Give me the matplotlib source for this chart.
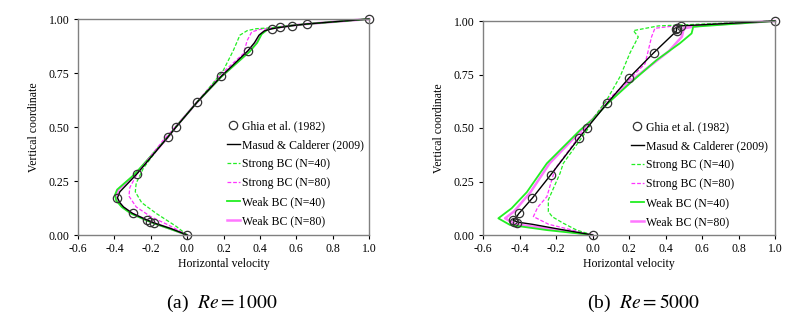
import matplotlib
matplotlib.use('Agg')
import matplotlib.pyplot as plt

plt.rcParams['font.family'] = ['Liberation Serif', 'DejaVu Serif']
plt.rcParams['mathtext.fontset'] = 'stix'

# Ghia et al. (1982) reference data
ghia_y = [1.0, 0.9766, 0.9688, 0.9609, 0.9531, 0.8516, 0.7344, 0.6172, 0.5,
          0.4531, 0.2813, 0.1719, 0.1016, 0.0703, 0.0625, 0.0547, 0.0]
ghia_u_1000 = [1.0, 0.65928, 0.57492, 0.51117, 0.46604, 0.33304, 0.18719, 0.05702, -0.0608,
               -0.10648, -0.27805, -0.38289, -0.2973, -0.2222, -0.20196, -0.18109, 0.0]
ghia_u_5000 = [1.0, 0.48223, 0.4612, 0.45992, 0.46036, 0.33556, 0.20087, 0.08183, -0.03039,
               -0.07404, -0.22855, -0.3305, -0.40435, -0.43643, -0.42901, -0.41165, 0.0]

# Re = 1000 curves
masud_1000_y = [0, 0.03, 0.055, 0.07, 0.10, 0.13, 0.15, 0.172, 0.20, 0.281, 0.453, 0.50, 0.617,
                0.734, 0.852, 0.89, 0.925, 0.945, 0.955, 0.961, 0.969, 0.977, 1.0]
masud_1000_u = [0, -0.09, -0.18, -0.222, -0.30, -0.35, -0.37, -0.383, -0.37, -0.278, -0.106, -0.061,
                0.057, 0.187, 0.333, 0.37, 0.395, 0.425, 0.466, 0.511, 0.575, 0.659, 1.0]
s40_1000_y = [0, 0.04, 0.10, 0.15, 0.20, 0.24, 0.31, 0.40, 0.51, 0.62, 0.70, 0.764, 0.856, 0.925,
              0.946, 0.955, 0.96, 0.97, 0.977, 1.0]
s40_1000_u = [0, -0.06, -0.17, -0.25, -0.285, -0.28, -0.24, -0.16, -0.05, 0.06, 0.14, 0.2, 0.255,
              0.29, 0.33, 0.38, 0.47, 0.575, 0.66, 1.0]
s80_1000_y = [0, 0.045, 0.085, 0.13, 0.18, 0.22, 0.29, 0.44, 0.505, 0.617, 0.74, 0.84, 0.90, 0.94,
              0.952, 0.958, 0.97, 0.977, 1.0]
s80_1000_u = [0, -0.1, -0.2, -0.28, -0.32, -0.315, -0.27, -0.13, -0.06, 0.057, 0.18, 0.31, 0.33,
              0.355, 0.40, 0.47, 0.575, 0.66, 1.0]
w40_1000_y = [0, 0.03, 0.05, 0.07, 0.10, 0.13, 0.16, 0.185, 0.21, 0.28, 0.45, 0.5, 0.617, 0.734,
              0.85, 0.89, 0.93, 0.95, 0.957, 0.97, 0.977, 1.0]
w40_1000_u = [0, -0.1, -0.17, -0.23, -0.31, -0.36, -0.39, -0.397, -0.385, -0.29, -0.11, -0.063,
              0.057, 0.19, 0.345, 0.385, 0.41, 0.44, 0.47, 0.575, 0.66, 1.0]
w80_1000_y = [0, 0.03, 0.05, 0.07, 0.10, 0.13, 0.16, 0.182, 0.21, 0.28, 0.45, 0.5, 0.617, 0.734,
              0.85, 0.89, 0.93, 0.95, 0.957, 0.97, 0.977, 1.0]
w80_1000_u = [0, -0.095, -0.165, -0.225, -0.305, -0.355, -0.385, -0.39, -0.378, -0.285, -0.108,
              -0.062, 0.057, 0.188, 0.34, 0.38, 0.405, 0.435, 0.468, 0.575, 0.66, 1.0]

# Re = 5000 curves
masud_5000_y = [0, 0.03, 0.05, 0.06, 0.07, 0.08, 0.10, 0.172, 0.281, 0.453, 0.5, 0.617, 0.734,
                0.852, 0.953, 0.97, 0.977, 1.0]
masud_5000_u = [0, -0.2, -0.33, -0.41, -0.436, -0.42, -0.404, -0.33, -0.229, -0.074, -0.03, 0.082,
                0.2, 0.336, 0.46, 0.46, 0.48, 1.0]
s40_5000_y = [0, 0.023, 0.055, 0.085, 0.109, 0.164, 0.288, 0.335, 0.444, 0.498, 0.54, 0.631, 0.74,
              0.85, 0.926, 0.955, 0.977, 1.0]
s40_5000_u = [0, -0.087, -0.16, -0.22, -0.242, -0.242, -0.178, -0.16, -0.068, -0.023, 0.0, 0.078,
              0.151, 0.205, 0.251, 0.224, 0.36, 1.0]
s80_5000_y = [0, 0.025, 0.05, 0.086, 0.13, 0.179, 0.31, 0.475, 0.54, 0.62, 0.70, 0.80, 0.927,
              0.966, 0.977, 1.0]
s80_5000_u = [0, -0.12, -0.24, -0.324, -0.30, -0.25, -0.205, -0.06, 0.0, 0.07, 0.17, 0.288, 0.324,
              0.342, 0.45, 1.0]
w40_5000_y = [0, 0.023, 0.047, 0.078, 0.125, 0.2, 0.335, 0.49, 0.54, 0.62, 0.709, 0.818, 0.896,
              0.942, 0.973, 0.985, 1.0]
w40_5000_u = [0, -0.25, -0.452, -0.516, -0.443, -0.36, -0.25, -0.068, 0.0, 0.09, 0.205, 0.352,
              0.479, 0.543, 0.552, 0.75, 1.0]
w80_5000_y = [0, 0.025, 0.05, 0.078, 0.11, 0.2, 0.335, 0.49, 0.54, 0.62, 0.72, 0.86, 0.927, 0.966,
              0.98, 1.0]
w80_5000_u = [0, -0.2, -0.42, -0.479, -0.43, -0.34, -0.235, -0.06, 0.0, 0.085, 0.21, 0.42, 0.49,
              0.50, 0.6, 1.0]

labels = ['Ghia et al. (1982)', 'Masud & Calderer (2009)', 'Strong BC (N=40)',
          'Strong BC (N=80)', 'Weak BC (N=40)', 'Weak BC (N=80)']
xticks = [-0.6, -0.4, -0.2, 0.0, 0.2, 0.4, 0.6, 0.8, 1.0]
yticks = [0.0, 0.25, 0.5, 0.75, 1.0]

GREEN = '#22ee22'
MAGENTA = '#ff33ff'
MAGENTA_W = '#ff77ff'

fig = plt.figure(figsize=(8.07, 3.29), dpi=100)
ax1 = fig.add_axes([78/807, 1-235/329, 291/807, 216/329])
ax2 = fig.add_axes([483/807, 1-235/329, 292/807, 214/329])


def draw(ax, ghia_u, masud, s40, s80, w40, w80, leg_x, leg_y, caption):
    h_w80, = ax.plot(w80[0], w80[1], color=MAGENTA_W, lw=1.8)
    h_w40, = ax.plot(w40[0], w40[1], color=GREEN, lw=1.3)
    h_s80, = ax.plot(s80[0], s80[1], color=MAGENTA, lw=0.9, ls=(0, (3, 1.5)))
    h_s40, = ax.plot(s40[0], s40[1], color=GREEN, lw=0.9, ls=(0, (3, 1.5)))
    h_m, = ax.plot(masud[0], masud[1], color='black', lw=1.0)
    h_g, = ax.plot(ghia_u, ghia_y, ls='none', marker='o', ms=6, mfc='none',
                   mec='#333333', mew=0.9)
    ax.set_xlim(-0.6, 1.0)
    ax.set_ylim(0, 1.0)
    ax.set_xticks(xticks)
    ax.set_xticklabels(['%.1f' % v for v in xticks], fontsize=8.5)
    ax.set_yticks(yticks)
    ax.set_yticklabels(['%.2f' % v for v in yticks], fontsize=8.5)
    ax.tick_params(direction='out', length=3, width=0.8, pad=3)
    for s in ax.spines.values():
        s.set_color('#808080')
        s.set_linewidth(1.0)
    ax.set_xlabel('Horizontal velocity', fontsize=8.5, labelpad=2)
    ax.set_ylabel('Vertical coordinate', fontsize=8.5, labelpad=6)
    for h in [h_g, h_m, h_s40, h_s80, h_w40, h_w80]:
        h.set_clip_on(False)
    ax.legend([h_g, h_m, h_s40, h_s80, h_w40, h_w80], labels, loc='upper left',
              bbox_to_anchor=(leg_x/807, 1-leg_y/329), bbox_transform=fig.transFigure,
              frameon=False, fontsize=8.5, handlelength=1.1, handletextpad=0.2,
              labelspacing=0.6, borderpad=0, borderaxespad=0)
    fig.text(caption[0]/807, 1-caption[1]/329, caption[2], ha='center', va='center',
             fontsize=14)


draw(ax1, ghia_u_1000, (masud_1000_u, masud_1000_y), (s40_1000_u, s40_1000_y),
     (s80_1000_u, s80_1000_y), (w40_1000_u, w40_1000_y), (w80_1000_u, w80_1000_y),
     227, 120, (222, 303, r'(a)  $Re = \mathrm{1000}$'))
draw(ax2, ghia_u_5000, (masud_5000_u, masud_5000_y), (s40_5000_u, s40_5000_y),
     (s80_5000_u, s80_5000_y), (w40_5000_u, w40_5000_y), (w80_5000_u, w80_5000_y),
     631, 121, (643, 303, r'(b)  $Re = \mathrm{5000}$'))

fig.savefig('out.png', dpi=100)
